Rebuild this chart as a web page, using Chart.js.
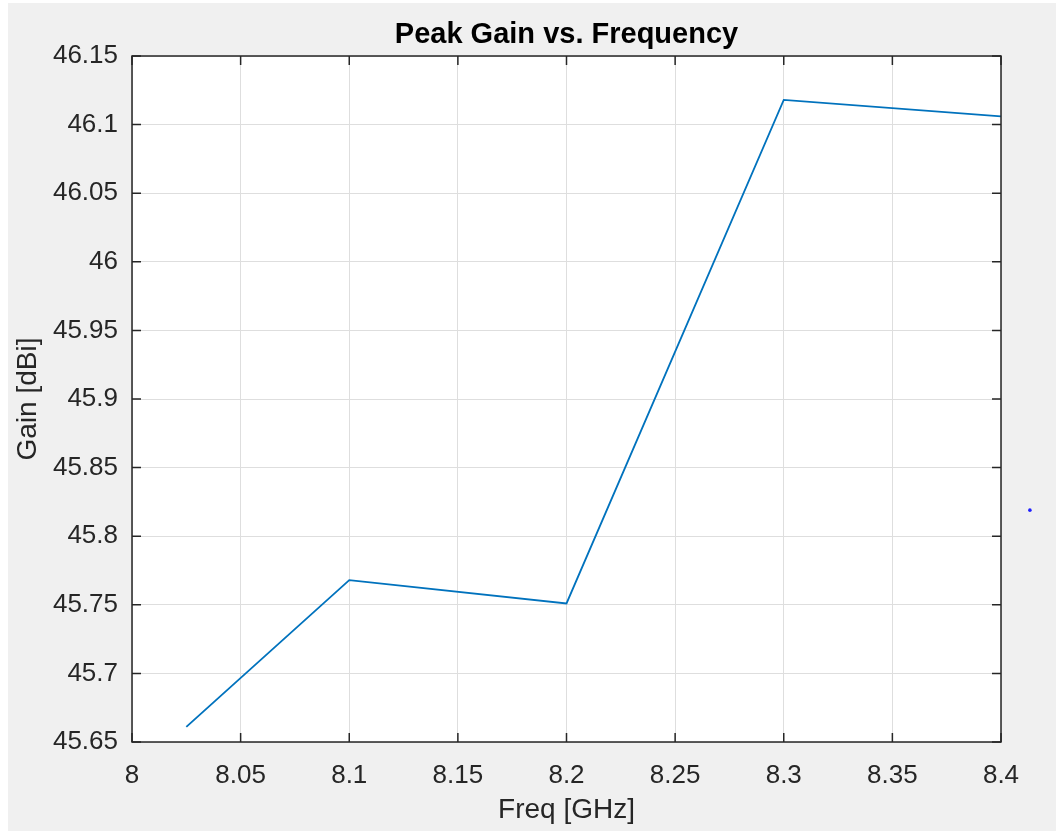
<!DOCTYPE html>
<html>
<head>
<meta charset="utf-8">
<title>Peak Gain vs. Frequency</title>
<script src="https://cdn.jsdelivr.net/npm/chart.js@4.4.1/dist/chart.umd.min.js"></script>
<style>
    html, body { margin: 0; padding: 0; background: #ffffff; }
    #wrap {
        position: absolute;
        left: 8px;
        top: 3px;
        width: 1048px;
        height: 828px;
        background: #f0f0f0;
    }
</style>
</head>
<body>
<div id="wrap">
    <canvas id="gainChart" width="1048" height="828"></canvas>
</div>
<script>
// Data
const freqGHz = [8.025, 8.1, 8.2, 8.3, 8.4];
const peakGain = [45.661, 45.768, 45.751, 46.118, 46.106];

// stray marker sitting just right of the axes
const strayFreq = [8.4133];
const strayGain = [45.819];

const xTickValues = [8, 8.05, 8.1, 8.15, 8.2, 8.25, 8.3, 8.35, 8.4];
const yTickValues = [45.65, 45.7, 45.75, 45.8, 45.85, 45.9, 45.95, 46, 46.05, 46.1, 46.15];

const chartTitle = 'Peak Gain vs. Frequency';
const fontFamily = '"Liberation Sans", Arial, sans-serif';

const fmt = v => String(Number(v.toFixed(2)));

// MATLAB-style box: white axes, dark frame, inward ticks on all four sides
const axesBox = {
    id: 'axesBox',
    beforeDraw(chart) {
        const { ctx, chartArea: a } = chart;
        ctx.save();
        ctx.fillStyle = '#ffffff';
        ctx.fillRect(a.left, a.top, a.right - a.left, a.bottom - a.top);
        ctx.restore();
    },
    afterDatasetsDraw(chart) {
        const { ctx, chartArea: a, scales } = chart;
        const len = 9;
        ctx.save();
        ctx.strokeStyle = '#262626';
        ctx.lineWidth = 1.5;
        ctx.strokeRect(a.left, a.top, a.right - a.left, a.bottom - a.top);
        ctx.beginPath();
        xTickValues.forEach(v => {
            const x = scales.x.getPixelForValue(v);
            ctx.moveTo(x, a.bottom); ctx.lineTo(x, a.bottom - len);
            ctx.moveTo(x, a.top); ctx.lineTo(x, a.top + len);
        });
        yTickValues.forEach(v => {
            const y = scales.y.getPixelForValue(v);
            ctx.moveTo(a.left, y); ctx.lineTo(a.left + len, y);
            ctx.moveTo(a.right, y); ctx.lineTo(a.right - len, y);
        });
        ctx.stroke();

        // points outside the axes are skipped by Chart.js, draw them without area check
        chart.getDatasetMeta(1).data.forEach(pt => pt.draw(ctx));

        // title centred over the axes, not the whole canvas
        ctx.fillStyle = '#000000';
        ctx.font = 'bold 29px ' + fontFamily;
        ctx.textAlign = 'center';
        ctx.textBaseline = 'alphabetic';
        ctx.fillText(chartTitle, (a.left + a.right) / 2, 40);
        ctx.restore();
    }
};

const ctx = document.getElementById('gainChart').getContext('2d');
new Chart(ctx, {
    type: 'scatter',
    data: {
        datasets: [{
            data: freqGHz.map((f, i) => ({ x: f, y: peakGain[i] })),
            showLine: true,
            borderColor: '#0072BD',
            borderWidth: 1.8,
            pointRadius: 0,
            tension: 0
        }, {
            data: strayFreq.map((f, i) => ({ x: f, y: strayGain[i] })),
            showLine: false,
            pointRadius: 1.8,
            pointBorderWidth: 0,
            backgroundColor: '#2020ff',
            clip: false
        }]
    },
    options: {
        responsive: false,
        animation: false,
        devicePixelRatio: 1,
        layout: { padding: { left: 0, right: 55, top: 53, bottom: 0 } },
        plugins: {
            legend: { display: false },
            tooltip: { enabled: false },
            title: { display: false }
        },
        scales: {
            x: {
                type: 'linear',
                min: 8,
                max: 8.4,
                afterBuildTicks: s => { s.ticks = xTickValues.map(v => ({ value: v })); },
                afterFit: s => { s.height = 89; },
                grid: { color: '#dedede', lineWidth: 1, drawTicks: false },
                border: { display: false },
                ticks: {
                    color: '#262626',
                    padding: 18,
                    maxRotation: 0,
                    autoSkip: false,
                    font: { family: fontFamily, size: 26 },
                    callback: v => fmt(v)
                },
                title: {
                    display: true,
                    text: 'Freq [GHz]',
                    color: '#262626',
                    font: { family: fontFamily, size: 28 },
                    padding: { top: 0, bottom: 4 }
                }
            },
            y: {
                min: 45.65,
                max: 46.15,
                afterBuildTicks: s => { s.ticks = yTickValues.map(v => ({ value: v })); },
                afterFit: s => { s.width = 124; },
                grid: { color: '#dedede', lineWidth: 1, drawTicks: false },
                border: { display: false },
                ticks: {
                    color: '#262626',
                    padding: 14,
                    autoSkip: false,
                    font: { family: fontFamily, size: 26 },
                    callback: v => fmt(v)
                },
                title: {
                    display: true,
                    text: 'Gain [dBi]',
                    color: '#262626',
                    font: { family: fontFamily, size: 28 },
                    padding: { top: 3, bottom: 0 }
                }
            }
        }
    },
    plugins: [axesBox]
});
</script>
</body>
</html>
